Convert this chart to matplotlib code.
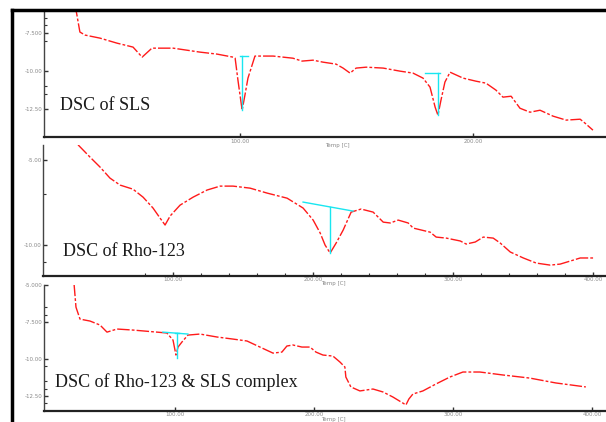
import matplotlib.pyplot as plt
from matplotlib.lines import Line2D

# DSC of SLS
sls_t = [29.2, 31.3, 33.5, 39.9, 47.2, 54.1, 58.0, 62.2, 71.3, 82.8, 90.1, 97.0, 97.9, 99.1,
         100.9, 102.1, 103.4, 106.4, 114.2, 122.7, 126.6, 131.3, 135.6, 141.2, 144.2, 147.2,
         149.8, 154.1, 161.4, 168.6, 174.2, 178.5, 181.5, 183.7, 184.9, 186.2, 187.9, 190.1,
         195.7, 201.2, 205.5, 209.8, 212.8, 216.3, 220.1, 224.4, 228.7, 234.3, 239.9, 245.9,
         248.0, 251.4]
sls_hf = [-5.6, -7.43, -7.63, -7.83, -8.16, -8.42, -9.08, -8.49, -8.49, -8.75, -8.88, -9.08,
          -9.15, -10.59, -12.57, -11.58, -10.46, -9.01, -9.01, -9.15, -9.34, -9.28, -9.41,
          -9.54, -9.80, -10.13, -9.80, -9.74, -9.80, -10.00, -10.13, -10.46, -11.05, -12.37,
          -12.90, -11.91, -10.72, -10.07, -10.46, -10.66, -10.79, -11.25, -11.71, -11.65,
          -12.44, -12.70, -12.57, -12.96, -13.22, -13.16, -13.42, -13.88]

# DSC of Rho-123
rho_t = [32.2, 40.7, 47.9, 55.0, 62.2, 71.4, 78.6, 85.7, 90.7, 94.3, 97.9, 105.0, 114.3,
         124.3, 133.6, 142.8, 155.0, 167.1, 181.4, 192.8, 200.0, 205.0, 208.5, 212.1, 216.4,
         221.4, 227.1, 234.2, 242.8, 250.0, 255.0, 260.7, 267.8, 271.4, 283.5, 287.8, 295.0,
         305.0, 309.2, 315.7, 321.4, 328.5, 333.5, 340.7, 350.0, 359.2, 369.2, 376.3, 383.5,
         390.6, 400.0]
rho_hf = [-4.1, -4.82, -5.41, -6.06, -6.47, -6.71, -7.18, -7.82, -8.41, -8.82, -8.29, -7.65,
          -7.18, -6.76, -6.53, -6.53, -6.65, -6.94, -7.24, -7.82, -8.53, -9.29, -10.00, -10.47,
          -9.88, -9.12, -8.06, -7.88, -8.06, -8.65, -8.70, -8.53, -8.70, -9.00, -9.24, -9.53,
          -9.59, -9.76, -9.94, -9.82, -9.53, -9.59, -9.88, -10.41, -10.76, -11.06, -11.18,
          -11.12, -10.94, -10.76, -10.76]

# DSC of Rho-123 & SLS complex
cpx_t = [27.4, 28.8, 31.7, 38.9, 46.1, 51.1, 58.3, 69.8, 87.1, 94.2, 98.6, 100.7, 102.2,
         105.0, 109.3, 118.0, 130.2, 141.7, 151.8, 161.1, 170.5, 176.9, 180.5, 184.8, 191.3,
         197.1, 201.4, 206.4, 213.6, 218.6, 222.2, 222.9, 226.5, 233.0, 242.4, 249.6, 256.7,
         263.9, 266.1, 268.2, 271.1, 278.3, 287.7, 297.7, 307.1, 319.3, 335.8, 355.2, 373.9,
         395.5]
cpx_hf = [-4.9, -6.49, -7.30, -7.43, -7.70, -8.18, -7.97, -8.04, -8.18, -8.24, -8.72, -9.73,
          -9.19, -8.85, -8.38, -8.31, -8.51, -8.65, -8.78, -9.19, -9.60, -9.53, -9.12, -9.05,
          -9.19, -9.19, -9.53, -9.73, -9.80, -10.20, -10.54, -11.22, -11.89, -12.16, -12.03,
          -12.23, -12.57, -12.98, -13.11, -12.71, -12.37, -12.16, -11.69, -11.22, -10.88,
          -10.88, -11.08, -11.29, -11.62, -11.89]

# peak analysis marks (baseline and peak drop)
sls_base = [([100.0, 103.4], [-9.01, -9.01]), ([100.9, 100.9], [-9.01, -12.57]),
            ([179.4, 185.8], [-10.10, -10.10]), ([184.9, 184.9], [-10.10, -12.90])]
rho_base = [([192.8, 228.5], [-7.47, -8.0]), ([212.1, 212.1], [-7.78, -10.47])]
cpx_base = [([91.3, 109.3], [-8.18, -8.31]), ([100.2, 102.6], [-8.25, -8.25]),
            ([101.4, 101.4], [-8.25, -9.93])]

red = '#ff1a1a'
cyan = '#19e6f0'
tick_font = 4
tick_col = '#888888'

fig = plt.figure(figsize=(6.06, 4.22), dpi=100)

panels = [
    dict(rect=[0.0726, 0.675, 0.9274, 0.301], t=sls_t, hf=sls_hf, base=sls_base,
         xlim=(15.9, 257), ylim=(-14.34, -5.99),
         xt=[100, 200], yt=[-7.5, -10, -12.5], ytl=['-7.500', '-10.00', '-12.50'],
         ym=[-6.5, -7.0, -8.0, -11.0, -11.5], xm=[],
         title='DSC of SLS', ty=105, tx=60, lab=(337, 146)),
    dict(rect=[0.071, 0.346, 0.929, 0.310], t=rho_t, hf=rho_hf, base=rho_base,
         xlim=(7.2, 409), ylim=(-11.82, -4.12),
         xt=[100, 200, 300, 400], yt=[-5, -10], ytl=['-5.00', '-10.00'],
         ym=[-7.0, -11.0], xm=[80, 120, 140, 160, 180, 220, 240, 260, 280, 320, 340, 360, 380],
         title='DSC of Rho-123', ty=252, tx=63, lab=(333, 284)),
    dict(rect=[0.0726, 0.026, 0.9274, 0.299], t=cpx_t, hf=cpx_hf, base=cpx_base,
         xlim=(5.8, 410), ylim=(-13.52, -4.98),
         xt=[100, 200, 300, 400], yt=[-5, -7.5, -10, -12.5],
         ytl=['-5.000', '-7.500', '-10.00', '-12.50'],
         ym=[-6.5, -7.0, -10.5, -11.5, -12.0, -13.0], xm=[],
         title='DSC of Rho-123 & SLS complex', ty=382, tx=55, lab=(333, 419)),
]

for p in panels:
    ax = fig.add_axes(p['rect'])
    ax.plot(p['t'], p['hf'], color=red, lw=1.0, linestyle=(0, (9, 1.5, 2, 1.5)))
    for bx, by in p['base']:
        ax.plot(bx, by, color=cyan, lw=1.0)
    ax.set_xlim(p['xlim'])
    ax.set_ylim(p['ylim'])
    ax.set_xticks(p['xt'])
    ax.set_xticklabels(['%.2f' % v for v in p['xt']])
    ax.set_yticks(p['yt'])
    ax.set_yticklabels(p['ytl'])
    ax.set_xticks(p['xm'], minor=True)
    ax.set_yticks(p['ym'], minor=True)
    ax.tick_params(which='both', direction='in', labelsize=tick_font,
                   labelcolor=tick_col, color='#333333', pad=1)
    ax.tick_params(which='major', length=3, width=1)
    ax.tick_params(which='minor', length=2, width=0.8)
    for s in ['top', 'right']:
        ax.spines[s].set_visible(False)
    ax.spines['left'].set_color('#444444')
    ax.spines['left'].set_linewidth(1.0)
    ax.spines['bottom'].set_color('#222222')
    ax.spines['bottom'].set_linewidth(1.6)
    ax.patch.set_alpha(0)
    fig.text(p['tx'] / 606, 1 - p['ty'] / 422, p['title'], family='Liberation Serif',
             fontsize=13, color='#1a1a1a', va='center', ha='left')
    fig.text(p['lab'][0] / 606, 1 - p['lab'][1] / 422, 'Temp [C]', fontsize=tick_font,
             color=tick_col, va='center', ha='center')

# outer frame of the composite
fig.add_artist(Line2D([12 / 606, 1.0], [1 - 10 / 422, 1 - 10 / 422], color='black', lw=2.5,
                      transform=fig.transFigure))
fig.add_artist(Line2D([12 / 606, 12 / 606], [0, 1 - 10 / 422], color='black', lw=2.5,
                      transform=fig.transFigure))

fig.savefig('out.png', dpi=100)
